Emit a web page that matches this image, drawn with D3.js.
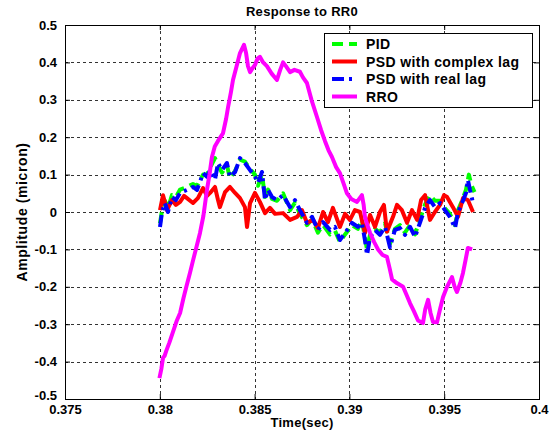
<!DOCTYPE html>
<html>
<head>
<meta charset="utf-8">
<script src="https://cdn.jsdelivr.net/npm/d3@7"></script>
<style>
  body { margin: 0; background: #fff; }
  text { font-family: "Liberation Sans", Arial, sans-serif; font-weight: bold; }
</style>
</head>
<body>
<svg id="chart"></svg>
<script>
const xTicks = [0.375, 0.38, 0.385, 0.39, 0.395, 0.4];
const yTicks = [-0.5, -0.4, -0.3, -0.2, -0.1, 0, 0.1, 0.2, 0.3, 0.4, 0.5];
const xTickLabels = ['0.375', '0.38', '0.385', '0.39', '0.395', '0.4'];
const yTickLabels = ['-0.5', '-0.4', '-0.3', '-0.2', '-0.1', '0', '0.1', '0.2', '0.3', '0.4', '0.5'];

const pidTime = [0.38001, 0.38012, 0.38027, 0.38043, 0.38064, 0.38085, 0.38107, 0.38143, 0.38175, 0.38196,
  0.38212, 0.38228, 0.38249, 0.38265, 0.38291, 0.38307, 0.38328, 0.38354, 0.38370, 0.38397,
  0.38423, 0.38449, 0.38476, 0.38502, 0.38518, 0.38539, 0.38555, 0.38571, 0.38592, 0.38618,
  0.38650, 0.38687, 0.38713, 0.38739, 0.38776, 0.38803, 0.38834, 0.38861, 0.38898, 0.38924,
  0.38950, 0.38977, 0.39014, 0.39045, 0.39066, 0.39082, 0.39093, 0.39109, 0.39135, 0.39161,
  0.39188, 0.39214, 0.39240, 0.39267, 0.39293, 0.39320, 0.39346, 0.39372, 0.39399, 0.39425,
  0.39451, 0.39478, 0.39504, 0.39530, 0.39557, 0.39573, 0.39594, 0.39615, 0.39630, 0.39645, 0.39660];
const pidValue = [-0.03, 0.005, 0.03, 0.01, 0.045, 0.04, 0.06, 0.067, 0.075, 0.07,
  0.085, 0.1, 0.1, 0.118, 0.144, 0.125, 0.105, 0.125, 0.09, 0.11,
  0.14, 0.135, 0.115, 0.1, 0.07, 0.1, 0.04, 0.06, 0.035, 0.03,
  0.05, 0.005, 0.025, -0.005, -0.035, -0.02, -0.055, -0.035, -0.06, -0.05,
  -0.08, -0.06, -0.035, -0.045, -0.02, -0.07, -0.1, -0.06, -0.045, -0.055,
  -0.03, -0.085, -0.045, -0.035, -0.055, -0.035, -0.06, -0.02, 0.02, 0.045,
  0.03, 0.03, 0.01, -0.005, -0.035, 0.005, 0.03, 0.06, 0.1, 0.07, 0.053];

const complexTime = [0.38001, 0.38017, 0.38038, 0.38064, 0.38085, 0.38107, 0.38128, 0.38143, 0.38175, 0.38201,
  0.38228, 0.38249, 0.38265, 0.38291, 0.38307, 0.38317, 0.38344, 0.38370, 0.38397, 0.38423,
  0.38449, 0.38460, 0.38476, 0.38502, 0.38528, 0.38555, 0.38581, 0.38608, 0.38650, 0.38687,
  0.38724, 0.38750, 0.38776, 0.38808, 0.38834, 0.38861, 0.38887, 0.38913, 0.38950, 0.38977,
  0.39003, 0.39029, 0.39056, 0.39082, 0.39109, 0.39135, 0.39161, 0.39182, 0.39198, 0.39230,
  0.39251, 0.39277, 0.39304, 0.39330, 0.39357, 0.39378, 0.39399, 0.39425, 0.39451, 0.39478,
  0.39499, 0.39515, 0.39546, 0.39573, 0.39599, 0.39625, 0.39652];
const complexValue = [0.005, 0.045, 0.005, 0.032, 0.019, 0.027, 0.043, 0.037, 0.024, 0.037,
  0.064, 0.043, 0.051, 0.067, 0.032, 0.013, 0.053, 0.067, 0.051, 0.037,
  0.013, -0.04, 0.024, 0.051, 0.027, -0.003, 0.011, -0.005, -0.003, -0.021,
  -0.013, 0.005, -0.029, -0.021, -0.043, 0, -0.027, 0.011, -0.04, -0.005,
  -0.021, 0.005, 0, -0.056, -0.008, -0.04, 0, 0.019, -0.053, -0.013,
  0.019, 0.005, -0.029, 0.005, -0.021, 0.032, 0.045, -0.021, 0, 0.019,
  0.045, 0.04, 0.013, -0.013, 0.037, 0.032, 0];

const realTime = [0.38001, 0.38012, 0.38027, 0.38043, 0.38064, 0.38085, 0.38107, 0.38143, 0.38175, 0.38196,
  0.38212, 0.38228, 0.38249, 0.38265, 0.38291, 0.38307, 0.38328, 0.38354, 0.38370, 0.38397,
  0.38423, 0.38449, 0.38476, 0.38502, 0.38518, 0.38539, 0.38555, 0.38571, 0.38592, 0.38618,
  0.38650, 0.38687, 0.38713, 0.38739, 0.38776, 0.38803, 0.38834, 0.38861, 0.38898, 0.38924,
  0.38950, 0.38977, 0.39014, 0.39045, 0.39066, 0.39082, 0.39093, 0.39109, 0.39135, 0.39161,
  0.39188, 0.39214, 0.39240, 0.39267, 0.39293, 0.39320, 0.39346, 0.39372, 0.39399, 0.39425,
  0.39451, 0.39478, 0.39504, 0.39530, 0.39557, 0.39573, 0.39594, 0.39615, 0.39625, 0.39636, 0.39652];
const realValue = [-0.04, 0, 0.024, 0, 0.04, 0.032, 0.051, 0.059, 0.067, 0.059,
  0.08, 0.104, 0.094, 0.112, 0.086, 0.131, 0.112, 0.131, 0.094, 0.107,
  0.144, 0.131, 0.112, 0.094, 0.078, 0.107, 0.032, 0.059, 0.04, 0.032,
  0.045, 0.013, 0.032, 0.005, -0.029, -0.013, -0.048, -0.027, -0.048, -0.04,
  -0.075, -0.056, -0.029, -0.04, -0.029, -0.075, -0.115, -0.067, -0.048, -0.061,
  -0.04, -0.094, -0.048, -0.043, -0.061, -0.04, -0.067, -0.029, 0.011, 0.032,
  0.013, 0.024, 0.005, -0.013, -0.043, 0, 0.024, 0.051, 0.086, 0.059, 0.024];

const rroTime = [0.37998, 0.38008, 0.38017, 0.38025, 0.38035, 0.38050, 0.38070, 0.38090, 0.38107, 0.38125,
  0.38140, 0.38159, 0.38175, 0.38190, 0.38212, 0.38230, 0.38249, 0.38262, 0.38275, 0.38290,
  0.38307, 0.38333, 0.38350, 0.38360, 0.38375, 0.38386, 0.38405, 0.38423, 0.38444, 0.38455,
  0.38465, 0.38476, 0.38490, 0.38502, 0.38515, 0.38528, 0.38545, 0.38565, 0.38590, 0.38618,
  0.38635, 0.38650, 0.38665, 0.38687, 0.38710, 0.38739, 0.38755, 0.38776, 0.38800, 0.38829,
  0.38850, 0.38871, 0.38890, 0.38908, 0.38930, 0.38950, 0.38970, 0.38987, 0.39010, 0.39040,
  0.39066, 0.39075, 0.39082, 0.39095, 0.39109, 0.39130, 0.39151, 0.39175, 0.39198, 0.39212,
  0.39225, 0.39250, 0.39283, 0.39300, 0.39320, 0.39340, 0.39362, 0.39388, 0.39400, 0.39415,
  0.39428, 0.39441, 0.39462, 0.39478, 0.39494, 0.39515, 0.39541, 0.39555, 0.39567, 0.39585,
  0.39599, 0.39612, 0.39625, 0.39647];
const rroValue = [-0.444, -0.42, -0.39, -0.385, -0.37, -0.35, -0.32, -0.29, -0.27, -0.23,
  -0.2, -0.163, -0.13, -0.1, -0.056, -0.01, 0.06, 0.1, 0.147, 0.175,
  0.19, 0.21, 0.25, 0.28, 0.32, 0.353, 0.39, 0.425, 0.447, 0.425,
  0.39, 0.374, 0.385, 0.393, 0.41, 0.415, 0.4, 0.39, 0.37, 0.353,
  0.38, 0.4, 0.39, 0.374, 0.38, 0.375, 0.36, 0.345, 0.3, 0.254,
  0.22, 0.19, 0.165, 0.147, 0.12, 0.104, 0.075, 0.05, 0.035, 0.027,
  0.045, 0.02, -0.013, -0.035, -0.056, -0.08, -0.1, -0.115, -0.12, -0.15,
  -0.18, -0.19, -0.2, -0.22, -0.244, -0.265, -0.29, -0.297, -0.26, -0.235,
  -0.27, -0.294, -0.295, -0.26, -0.227, -0.2, -0.174, -0.2, -0.214, -0.19,
  -0.163, -0.13, -0.096, -0.1];

const seriesNames = ['PID', 'PSD with complex lag', 'PSD with real lag', 'RRO'];
const seriesColors = ['#00ff00', '#ff0000', '#0000ff', '#ff00ff'];
const seriesDash = ['11,6', null, '12,5,3,5', null];
const seriesTimes = [pidTime, complexTime, realTime, rroTime];
const seriesValues = [pidValue, complexValue, realValue, rroValue];

const W = 549, H = 439;
const m = { top: 25, left: 65, right: 10, bottom: 40 };
const w = W - m.left - m.right;
const h = H - m.top - m.bottom;

const svg = d3.select('#chart').attr('width', W).attr('height', H);

const x = d3.scaleLinear().domain([0.375, 0.4]).range([0, w]);
const y = d3.scaleLinear().domain([-0.5, 0.5]).range([h, 0]);

const g = svg.append('g').attr('transform', `translate(${m.left},${m.top})`);

// grid
g.append('g')
  .selectAll('line')
  .data(xTicks.slice(1, -1))
  .enter()
  .append('line')
  .attr('x1', d => Math.round(x(d)) + 0.5).attr('x2', d => Math.round(x(d)) + 0.5)
  .attr('y1', 0).attr('y2', h)
  .attr('stroke', '#333').attr('stroke-dasharray', '3,3')
g.append('g')
  .selectAll('line')
  .data(yTicks.slice(1, -1))
  .enter()
  .append('line')
  .attr('y1', d => Math.round(y(d)) + 0.5).attr('y2', d => Math.round(y(d)) + 0.5)
  .attr('x1', 0).attr('x2', w)
  .attr('stroke', '#333').attr('stroke-dasharray', '3,3')

// series
seriesTimes.forEach((ts, i) => {
  const pts = ts.map((t, k) => [t, seriesValues[i][k]])
  g.append('path')
    .datum(pts)
    .attr('d', d3.line().x(p => x(p[0])).y(p => y(p[1])))
    .attr('fill', 'none')
    .attr('stroke', seriesColors[i])
    .attr('stroke-width', 4)
    .attr('stroke-linejoin', 'round')
    .attr('stroke-dasharray', seriesDash[i])
})

// axes with inward ticks
const fmtX = (d, i) => xTickLabels[i];
const fmtY = (d, i) => yTickLabels[i];
const axB = g.append('g').attr('transform', `translate(0,${h})`)
  .call(d3.axisBottom(x).tickValues(xTicks).tickFormat(fmtX).tickSizeInner(-5).tickSizeOuter(0).tickPadding(7))
const axL = g.append('g')
  .call(d3.axisLeft(y).tickValues(yTicks).tickFormat(fmtY).tickSizeInner(-5).tickSizeOuter(0).tickPadding(8))
g.append('g')
  .call(d3.axisTop(x).tickValues(xTicks).tickFormat('').tickSizeInner(-5).tickSizeOuter(0))
g.append('g').attr('transform', `translate(${w},0)`)
  .call(d3.axisRight(y).tickValues(yTicks).tickFormat('').tickSizeInner(-5).tickSizeOuter(0))
svg.selectAll('.domain').remove()
svg.selectAll('.tick text').attr('font-size', 13).attr('fill', '#000')
axB.selectAll('.tick text').attr('dy', '0.6em')
// lowest y label sits just above the first x label, as in the original
axL.selectAll('.tick text').filter(d => d === -0.5).attr('dy', '0.05em')

g.append('rect')
  .attr('x', 0.5).attr('y', 0.5)
  .attr('width', w).attr('height', h)
  .attr('fill', 'none').attr('stroke', '#000')

// legend
const lg = svg.append('g').attr('transform', 'translate(324,33)')
lg.append('rect')
  .attr('x', 0.5).attr('y', 0.5).attr('width', 208).attr('height', 74)
  .attr('fill', '#fff').attr('stroke', '#000')
seriesNames.forEach((name, i) => {
  const yy = 11 + i * 17.5
  lg.append('line')
    .attr('x1', 8).attr('x2', 33).attr('y1', yy).attr('y2', yy)
    .attr('stroke', seriesColors[i]).attr('stroke-width', 4)
    .attr('stroke-dasharray', seriesDash[i])
  lg.append('text')
    .attr('x', 42).attr('y', yy).attr('dy', '0.36em')
    .attr('font-size', 14).attr('letter-spacing', 0.4).text(name)
})

// titles
svg.append('text')
  .attr('x', m.left + w / 2).attr('y', 16)
  .attr('text-anchor', 'middle').attr('font-size', 13).attr('letter-spacing', 0.3)
  .text('Response to RR0')
svg.append('text')
  .attr('x', m.left + w / 2).attr('y', 427)
  .attr('text-anchor', 'middle').attr('font-size', 13).attr('letter-spacing', 0.3)
  .text('Time(sec)')
svg.append('text')
  .attr('transform', `translate(27,${m.top + h / 2}) rotate(-90)`)
  .attr('text-anchor', 'middle').attr('font-size', 14).attr('letter-spacing', 0.6)
  .text('Amplitude (micron)')
</script>
</body>
</html>
